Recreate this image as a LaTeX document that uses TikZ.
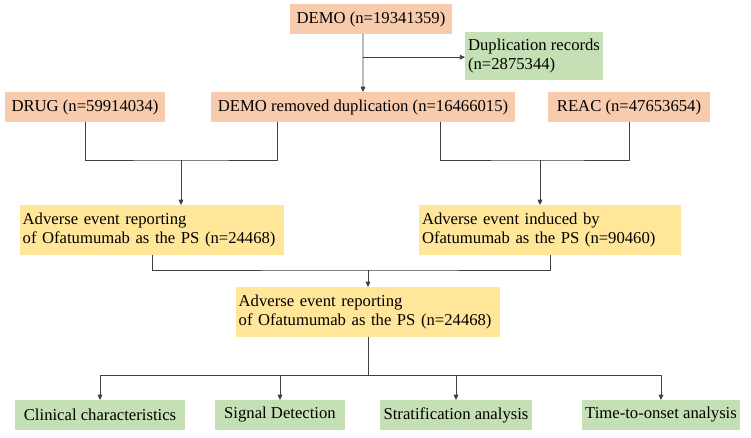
\documentclass[tikz,border=0pt]{standalone}
\usepackage{fontspec}
\setmainfont{Liberation Serif}
\usetikzlibrary{arrows.meta,positioning,calc}
\definecolor{salmon}{HTML}{F8CBAD}
\definecolor{leaf}{HTML}{C5E0B4}
\definecolor{sand}{HTML}{FFE699}
\begin{document}
\begin{tikzpicture}[x=0.75pt,y=-0.75pt,
  box/.style={rectangle, inner sep=2pt, minimum height=22pt, font=\fontsize{12.5}{14}\selectfont},
  redbox/.style={box, fill=salmon},
  greenbox/.style={box, fill=leaf},
  ybox/.style={box, fill=sand, align=left, minimum height=37pt},
  arr/.style={-{Triangle[length=4pt,width=3.5pt]}, draw=black!75, line width=0.7pt},
  ln/.style={draw=black!75, line width=0.7pt}
]
\useasboundingbox (0,0) rectangle (751,437);

% Top: raw data
\node[redbox, minimum width=121pt] (demo) at (371,19) {DEMO (n=19341359)};
\node[greenbox, align=left, minimum width=96pt, minimum height=36pt] (dup) at (534,56) {Duplication records\\(n=2875344)};

% Second row
\node[redbox, minimum width=120pt] (drug) at (85,107) {DRUG (n=59914034)};
\node[redbox, minimum width=228pt] (removed) at (363,107) {DEMO removed duplication (n=16466015)};
\node[redbox, minimum width=121pt] (reac) at (629,107) {REAC (n=47653654)};

\coordinate (split) at ($(demo.south -| removed.north)!0.4!(removed.north)$);
\draw[ln] (demo.south -| removed.north) -- (split);
\draw[arr] (split) -- (removed.north);
\draw[arr] (split) -- (split -| dup.west);

% Merge into adverse events
\node[ybox, text width=194pt] (aeleft) at (152,230) {Adverse event reporting\\of Ofatumumab as the PS (n=24468)};
\node[ybox, text width=192pt] (aeright) at (550,230) {Adverse event induced by\\Ofatumumab as the PS (n=90460)};

\coordinate (lj) at (181,160);
\coordinate (rj) at (540,160);
\draw[ln] (drug.south) |- (lj) -| ($(removed.south west)!0.22!(removed.south east)$);
\draw[arr] (lj) -- (lj |- aeleft.north);
\draw[ln] ($(removed.south west)!0.755!(removed.south east)$) |- (rj) -| (reac.south);
\draw[arr] (rj) -- (rj |- aeright.north);

% Combined
\node[ybox, text width=194pt] (aemid) at (368,312) {Adverse event reporting\\of Ofatumumab as the PS (n=24468)};
\coordinate (mj) at (368,270);
\draw[ln] (aeleft.south) |- (mj) -| (aeright.south);
\draw[arr] (mj) -- (aemid.north);

% Analyses
\node[greenbox, minimum width=128pt] (clin) at (100,415) {Clinical characteristics};
\node[greenbox, minimum width=97pt] (sig) at (280,415) {Signal Detection};
\node[greenbox, minimum width=114pt] (strat) at (456,415) {Stratification analysis};
\node[greenbox, minimum width=119pt] (tto) at (661,415) {Time-to-onset analysis};

\coordinate (bj) at (368,375);
\draw[ln] (aemid.south) -- (bj);
\draw[ln] (bj -| clin.north) -- (bj -| tto.north);
\foreach \n in {clin,sig,strat,tto}
  \draw[arr] (bj -| \n.north) -- (\n.north);

\end{tikzpicture}
\end{document}
